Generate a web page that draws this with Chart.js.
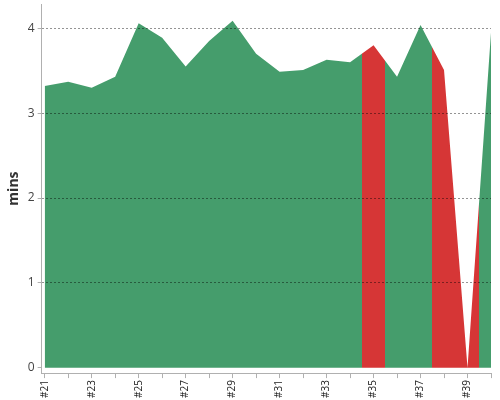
<!DOCTYPE html>
<html>
<head>
<meta charset="utf-8">
<script src="https://cdn.jsdelivr.net/npm/chart.js@4/dist/chart.umd.min.js"></script>
<style>
  html, body { margin: 0; padding: 0; background: #fff; }
  #wrap { width: 500px; height: 400px; position: relative; }
</style>
</head>
<body>
<div id="wrap"><canvas id="chart"></canvas></div>
<script>
// build labels and durations (mins)
var builds = ['#21', '#22', '#23', '#24', '#25', '#26', '#27', '#28', '#29', '#30',
              '#31', '#32', '#33', '#34', '#35', '#36', '#37', '#38', '#39', '#40'];
var durations = [3.32, 3.37, 3.30, 3.43, 4.06, 3.89, 3.55, 3.85, 4.09, 3.70,
                 3.49, 3.51, 3.63, 3.60, 3.80, 3.43, 4.04, 3.51, 0, 3.95];
// failed builds are drawn red
var failed = [false, false, false, false, false, false, false, false, false, false,
              false, false, false, false, true, false, false, true, true, false];
var yTicks = [0, 1, 2, 3, 4];

var green = 'rgb(69, 157, 108)';
var red = 'rgb(214, 54, 54)';

Chart.defaults.font.family = "'Open Sans', 'DejaVu Sans', sans-serif";

// horizontal gradient with hard stops half way between builds
function statusFill(context) {
    var chart = context.chart;
    var area = chart.chartArea;
    if (!area) return green;
    var xs = chart.scales.x;
    var width = area.right - area.left;
    var g = chart.ctx.createLinearGradient(area.left, 0, area.right, 0);
    var prev = failed[0] ? red : green;
    g.addColorStop(0, prev);
    for (var i = 1; i < builds.length; i++) {
        var col = failed[i] ? red : green;
        if (col !== prev) {
            var mid = (xs.getPixelForValue(i - 1) + xs.getPixelForValue(i)) / 2;
            var p = Math.min(Math.max((mid - area.left) / width, 0), 1);
            g.addColorStop(p, prev);
            g.addColorStop(p, col);
            prev = col;
        }
    }
    g.addColorStop(1, prev);
    return g;
}

var points = builds.map(function (b, i) { return { x: i, y: durations[i] }; });

var chart = new Chart(document.getElementById('chart'), {
    type: 'line',
    data: {
        datasets: [{
            data: points,
            fill: 'origin',
            backgroundColor: statusFill,
            borderWidth: 0,
            pointRadius: 0,
            tension: 0
        }]
    },
    options: {
        responsive: true,
        maintainAspectRatio: false,
        animation: false,
        layout: { padding: { top: 4, right: 9, left: 0, bottom: 0 } },
        plugins: {
            legend: { display: false },
            tooltip: { enabled: false }
        },
        scales: {
            x: {
                type: 'linear',
                min: -0.13,
                max: builds.length - 1,
                afterBuildTicks: function (scale) {
                    scale.ticks = builds.map(function (b, i) { return { value: i }; });
                },
                afterFit: function (scale) {
                    scale.paddingRight = 0;
                    scale.paddingLeft = 0;
                },
                grid: {
                    drawOnChartArea: false,
                    drawTicks: true,
                    tickLength: 5,
                    tickColor: '#b0b0b0'
                },
                border: { color: '#b0b0b0', z: 2 },
                ticks: {
                    autoSkip: false,
                    maxRotation: 90,
                    minRotation: 90,
                    padding: 2,
                    color: '#222',
                    font: { size: 10 },
                    callback: function (value) {
                        return value % 2 === 0 ? builds[value] : '';
                    }
                }
            },
            y: {
                min: -0.063,
                max: 4.287,
                afterBuildTicks: function (scale) {
                    scale.ticks = yTicks.map(function (v) { return { value: v }; });
                },
                afterFit: function (scale) {
                    scale.paddingTop = 0;
                    scale.paddingBottom = 0;
                },
                grid: {
                    z: 1,
                    color: function (ctx) {
                        return ctx.tick && ctx.tick.value === 0 ? 'rgba(0,0,0,0)' : 'rgba(0,0,0,0.42)';
                    },
                    tickColor: '#b0b0b0',
                    tickLength: 4
                },
                border: { color: '#b0b0b0', dash: [2, 2], z: 2 },
                ticks: {
                    color: '#444',
                    font: { size: 12 },
                    padding: 3
                },
                title: {
                    display: true,
                    text: 'mins',
                    color: '#333',
                    font: { size: 14, weight: 'bold' },
                    padding: { top: 6, bottom: 2 }
                }
            }
        }
    }
});
</script>
</body>
</html>
